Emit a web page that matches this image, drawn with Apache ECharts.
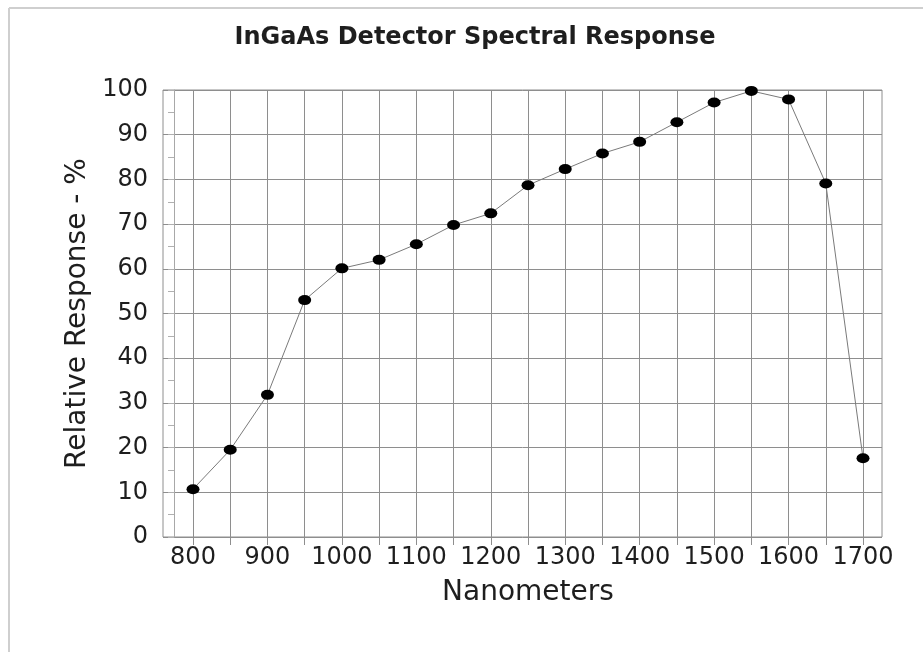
<!DOCTYPE html>
<html lang="en" style="height: 100%">
<head>
  <meta charset="utf-8">
</head>
<body style="height: 100%; margin: 0; background: #fff">
  <div id="container" style="width: 923px; height: 652px"></div>

  <script type="text/javascript" src="https://fastly.jsdelivr.net/npm/echarts@6/dist/echarts.min.js"></script>
  <script type="text/javascript">
    // wavelength (nm) and relative response (%)
    var wavelengths = [800, 850, 900, 950, 1000, 1050, 1100, 1150, 1200, 1250,
                       1300, 1350, 1400, 1450, 1500, 1550, 1600, 1650, 1700];
    var response = [10.7, 19.5, 31.8, 53.0, 60.1, 62.0, 65.5, 69.8, 72.4, 78.7,
                    82.3, 85.8, 88.4, 92.8, 97.2, 99.8, 97.9, 79.1, 17.6];

    var gridColor = '#8e8e8e';
    var textColor = '#1e1e1e';
    var font = 'DejaVu Sans';

    var dom = document.getElementById('container');
    var myChart = echarts.init(dom, null, { renderer: 'canvas' });

    var points = [];
    for (var i = 0; i < wavelengths.length; i++) {
      points.push([wavelengths[i], response[i]]);
    }

    var option = {
      backgroundColor: '#fff',
      animation: false,
      title: {
        text: 'InGaAs Detector Spectral Response',
        left: 470,
        top: 21,
        textAlign: 'center',
        textStyle: { fontFamily: font, fontWeight: 'bold', fontSize: 24, color: textColor }
      },
      graphic: [
        { type: 'line', shape: { x1: 9, y1: 8, x2: 923, y2: 8 }, style: { stroke: '#cfcfcf', lineWidth: 2 } },
        { type: 'line', shape: { x1: 9, y1: 8, x2: 9, y2: 652 }, style: { stroke: '#cfcfcf', lineWidth: 2 } }
      ],
      grid: [
        // data area: 800..1700 nm
        { left: 193, right: 60, top: 90, bottom: 115 },
        // outer frame of the plot
        { left: 163, right: 41, top: 90, bottom: 115, show: true, borderColor: gridColor, borderWidth: 1, backgroundColor: 'transparent' }
      ],
      xAxis: [
        {
          type: 'value', gridIndex: 0, min: 800, max: 1700, interval: 50,
          name: 'Nanometers', nameLocation: 'middle', nameGap: 42,
          nameTextStyle: { fontFamily: font, fontSize: 28, color: textColor },
          axisLine: { show: false },
          axisTick: { show: true, length: 8, lineStyle: { color: gridColor } },
          splitLine: { show: true, lineStyle: { color: gridColor, width: 1 } },
          axisLabel: {
            margin: 9, fontFamily: font, fontSize: 24, color: textColor,
            formatter: function (v) { return v % 100 === 0 ? String(v) : ''; }
          }
        },
        { type: 'value', gridIndex: 1, min: 0, max: 1, show: false }
      ],
      yAxis: [
        { type: 'value', gridIndex: 0, min: 0, max: 100, interval: 10, show: false },
        {
          type: 'value', gridIndex: 1, position: 'left', min: 0, max: 100, interval: 10,
          name: 'Relative Response - %', nameLocation: 'middle', nameGap: 64,
          nameTextStyle: { fontFamily: font, fontSize: 28, color: textColor },
          axisLine: { show: false },
          axisTick: { show: false },
          splitLine: { show: true, lineStyle: { color: gridColor, width: 1 } },
          axisLabel: { margin: 15, fontFamily: font, fontSize: 24, color: textColor }
        },
        {
          // light inner line with half-step marks
          type: 'value', gridIndex: 1, position: 'left', offset: -11,
          min: 0, max: 100, interval: 5,
          axisLine: { show: true, lineStyle: { color: '#a8a8a8', width: 1 } },
          axisTick: { show: true, length: 6, lineStyle: { color: '#b0b0b0' } },
          axisLabel: { show: false },
          splitLine: { show: false }
        }
      ],
      series: [
        {
          type: 'line',
          xAxisIndex: 0,
          yAxisIndex: 0,
          data: points,
          symbol: 'circle',
          symbolSize: [13, 10],
          lineStyle: { color: '#7a7a7a', width: 1 },
          itemStyle: { color: '#000' },
          z: 5
        }
      ]
    };

    myChart.setOption(option);
    window.addEventListener('resize', myChart.resize);
  </script>
</body>
</html>
